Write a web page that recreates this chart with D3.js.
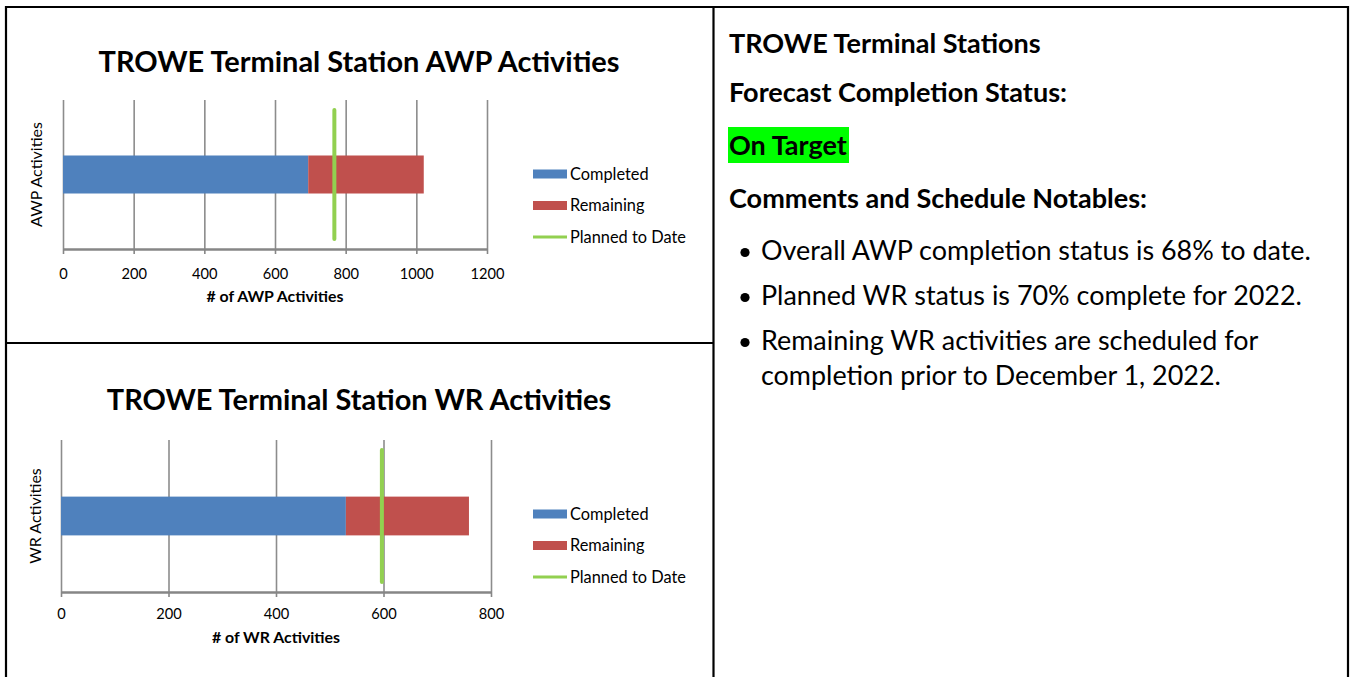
<!DOCTYPE html>
<html>
<head>
<meta charset="utf-8">
<script src="https://cdn.jsdelivr.net/npm/d3@7"></script>
<style>
  html, body { margin: 0; padding: 0; background: #fff; }
  svg { display: block; }
</style>
</head>
<body>
<svg id="chart" width="1351" height="677"></svg>
<script>
// ---------------- DATA ----------------
const seriesNames = ["Completed", "Remaining", "Planned to Date"];
const seriesColors = ["#4F81BD", "#C0504D", "#92D050"];

const awpTitle = "TROWE Terminal Station AWP Activities";
const awpCategories = ["AWP Activities"];
const awpCompleted = [694];
const awpRemaining = [327];
const awpPlanned = [768];
const awpTicks = [0, 200, 400, 600, 800, 1000, 1200];
const awpXTitle = "# of AWP Activities";

const wrTitle = "TROWE Terminal Station WR Activities";
const wrCategories = ["WR Activities"];
const wrCompleted = [530];
const wrRemaining = [229];
const wrPlanned = [597];
const wrTicks = [0, 200, 400, 600, 800];
const wrXTitle = "# of WR Activities";

const panelHeading = "TROWE Terminal Stations";
const panelStatusLabel = "Forecast Completion Status:";
const panelStatus = "On Target";
const panelCommentsLabel = "Comments and Schedule Notables:";
const panelBullets = [
  ["Overall AWP completion status is 68% to date."],
  ["Planned WR status is 70% complete for 2022."],
  ["Remaining WR activities are scheduled for", "completion prior to December 1, 2022."]
];

// ---------------- SETUP ----------------
const FONT = "Lato, 'Open Sans', sans-serif";
const svg = d3.select("#chart");

function fitFont(str, weight, target) {
  const t = svg.append("text").attr("font-family", FONT).attr("font-weight", weight)
    .attr("font-size", 100).text(str);
  const w = t.node().getComputedTextLength();
  t.remove();
  return 100 * target / w;
}

const fsTitle = fitFont(awpTitle, "bold", 521);
const fsTick = fitFont("1200", "normal", 34);
const fsXTitle = fitFont(wrXTitle, "bold", 128);
const fsYLabel = fitFont("AWP Activities", "normal", 105);
const fsLegend = fitFont("Planned to Date", "normal", 116);
const fsPanelBold = fitFont(panelHeading, "bold", 312);
const fsPanel = fitFont(panelBullets[0][0], "normal", 550);

// ---------------- FRAME ----------------
const frame = svg.append("g").attr("stroke", "#000").attr("stroke-width", 2.2);
frame.append("line").attr("x1", 5).attr("x2", 1349).attr("y1", 7).attr("y2", 7);
frame.append("line").attr("x1", 6).attr("x2", 6).attr("y1", 6).attr("y2", 677);
frame.append("line").attr("x1", 1348).attr("x2", 1348).attr("y1", 6).attr("y2", 677);
frame.append("line").attr("x1", 713.5).attr("x2", 713.5).attr("y1", 6).attr("y2", 677);
frame.append("line").attr("x1", 6).attr("x2", 713.5).attr("y1", 343).attr("y2", 343);

// ---------------- CHART ----------------
function drawChart(cfg) {
  const g = svg.append("g");
  const x = d3.scaleLinear().domain([cfg.ticks[0], cfg.ticks[cfg.ticks.length - 1]])
    .range([cfg.left, cfg.right]);
  const y = d3.scaleBand().domain(cfg.categories).range([cfg.top, cfg.bottom])
    .paddingInner(0).paddingOuter(1.46);
  const plotH = cfg.bottom - cfg.top;

  // title
  g.append("text").attr("x", cfg.titleX).attr("y", cfg.titleY)
    .attr("text-anchor", "middle").attr("font-family", FONT).attr("font-weight", "bold")
    .attr("font-size", fsTitle).attr("fill", "#000").text(cfg.title);

  // gridlines
  const grid = g.append("g").attr("transform", `translate(0,${cfg.bottom})`)
    .call(d3.axisBottom(x).tickValues(cfg.ticks).tickSize(-plotH).tickFormat(""));
  grid.select(".domain").remove();
  grid.selectAll(".tick line").attr("stroke", "#8c8c8c").attr("stroke-width", 1.6);

  // stacked bar
  const rows = cfg.categories.map((c, i) => ({ cat: c, Completed: cfg.completed[i], Remaining: cfg.remaining[i] }));
  const stack = d3.stack().keys(["Completed", "Remaining"])(rows);
  g.append("g").selectAll("g").data(stack).join("g")
    .attr("fill", (d, i) => seriesColors[i])
    .selectAll("rect").data(d => d).join("rect")
    .attr("x", d => x(d[0])).attr("width", d => x(d[1]) - x(d[0]))
    .attr("y", d => y(d.data.cat)).attr("height", y.bandwidth());

  // axis
  const ax = g.append("g").attr("transform", `translate(0,${cfg.bottom})`)
    .call(d3.axisBottom(x).tickValues(cfg.ticks).tickSizeInner(5).tickSizeOuter(0).tickFormat(d3.format("d")));
  ax.select(".domain").attr("stroke", "#868686").attr("stroke-width", 2.6);
  ax.selectAll(".tick line").attr("stroke", "#868686").attr("stroke-width", 1.6);
  ax.selectAll(".tick text").attr("y", cfg.tickBaseline).attr("dy", null)
    .attr("font-family", FONT).attr("font-size", fsTick).attr("fill", "#000");

  // planned line
  g.append("g").selectAll("line").data(cfg.categories).join("line")
    .attr("x1", (d, i) => x(cfg.planned[i])).attr("x2", (d, i) => x(cfg.planned[i]))
    .attr("y1", d => y(d) + y.bandwidth() / 2 - y.bandwidth() * 1.7)
    .attr("y2", d => y(d) + y.bandwidth() / 2 + y.bandwidth() * 1.7)
    .attr("stroke", seriesColors[2]).attr("stroke-width", 4).attr("stroke-linecap", "round");

  // x title
  g.append("text").attr("x", (cfg.left + cfg.right) / 2).attr("y", cfg.xTitleY)
    .attr("text-anchor", "middle").attr("font-family", FONT).attr("font-weight", "bold")
    .attr("font-size", fsXTitle).attr("fill", "#000").text(cfg.xTitle);

  // y label
  g.append("text")
    .attr("transform", `translate(${cfg.yLabelX},${(cfg.top + cfg.bottom) / 2}) rotate(-90)`)
    .attr("text-anchor", "middle").attr("font-family", FONT).attr("font-size", fsYLabel)
    .attr("fill", "#000").text(cfg.categories[0]);

  // legend
  const lg = g.append("g");
  seriesNames.forEach((name, i) => {
    const cy = cfg.legendY + i * 31.5;
    if (i < 2) {
      lg.append("rect").attr("x", 533).attr("y", cy - 4.5).attr("width", 34).attr("height", 9)
        .attr("fill", seriesColors[i]);
    } else {
      lg.append("line").attr("x1", 533).attr("x2", 567).attr("y1", cy).attr("y2", cy)
        .attr("stroke", seriesColors[i]).attr("stroke-width", 3.2);
    }
    lg.append("text").attr("x", 570).attr("y", cy + 5.5).attr("font-family", FONT)
      .attr("font-size", fsLegend).attr("fill", "#000").text(name);
  });
}

drawChart({
  title: awpTitle, titleX: 359, titleY: 72,
  categories: awpCategories, completed: awpCompleted, remaining: awpRemaining, planned: awpPlanned,
  ticks: awpTicks, left: 63, right: 487, top: 100, bottom: 249, tickBaseline: 30,
  xTitle: awpXTitle, xTitleY: 302, yLabelX: 42, legendY: 174
});

drawChart({
  title: wrTitle, titleX: 359, titleY: 410,
  categories: wrCategories, completed: wrCompleted, remaining: wrRemaining, planned: wrPlanned,
  ticks: wrTicks, left: 61, right: 491, top: 440, bottom: 592, tickBaseline: 27,
  xTitle: wrXTitle, xTitleY: 643, yLabelX: 41, legendY: 514
});

// ---------------- RIGHT PANEL ----------------
const p = svg.append("g").attr("font-family", FONT).attr("fill", "#000");
const px = 729;
p.append("text").attr("x", px).attr("y", 53).attr("font-weight", "bold").attr("font-size", fsPanelBold).text(panelHeading);
p.append("text").attr("x", px).attr("y", 102).attr("font-weight", "bold").attr("font-size", fsPanelBold).text(panelStatusLabel);
p.append("rect").attr("x", 728).attr("y", 127).attr("width", 121).attr("height", 36).attr("fill", "#00FF00");
p.append("text").attr("x", px).attr("y", 155).attr("font-weight", "bold").attr("font-size", fsPanelBold).text(panelStatus);
p.append("text").attr("x", px).attr("y", 208).attr("font-weight", "bold").attr("font-size", fsPanelBold).text(panelCommentsLabel);

let by = 260;
panelBullets.forEach(lines => {
  p.append("circle").attr("cx", 745).attr("cy", by - 7.5).attr("r", 4.6).attr("fill", "#000");
  lines.forEach((ln, j) => {
    p.append("text").attr("x", 761).attr("y", by + j * 35).attr("font-size", fsPanel).text(ln);
  });
  by += (lines.length - 1) * 35 + 45;
});
</script>
</body>
</html>
